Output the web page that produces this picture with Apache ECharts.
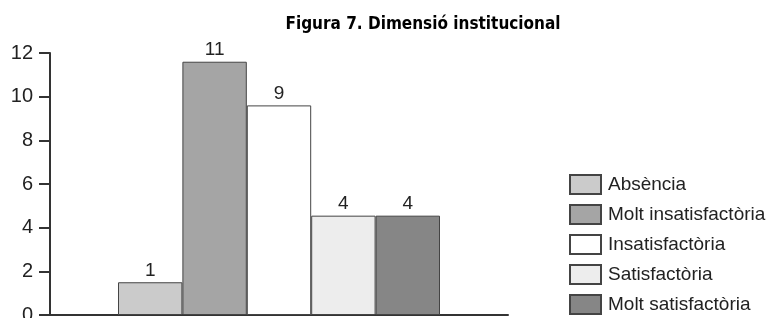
<!DOCTYPE html>
<html>
<head>
<meta charset="utf-8">
<script src="https://cdn.jsdelivr.net/npm/echarts@6/dist/echarts.min.js"></script>
<style>
html, body { margin: 0; padding: 0; background: #fff; }
#chart { width: 776px; height: 318px; }
</style>
</head>
<body>
<div id="chart"></div>
<script>
'use strict';
// categories (one per series)
var categories = ['Absència', 'Molt insatisfactòria', 'Insatisfactòria', 'Satisfactòria', 'Molt satisfactòria'];
// values printed above the bars
var counts = [1, 11, 9, 4, 4];
// bar heights as drawn in the picture
var heights = [1.5, 11.6, 9.6, 4.55, 4.55];
var colors = ['#cbcbcb', '#a5a5a5', '#ffffff', '#ededed', '#868686'];
var yTicks = [0, 2, 4, 6, 8, 10, 12];

var chart = echarts.init(document.getElementById('chart'));

var series = categories.map(function(name, i) {
    return {
        name: name,
        type: 'bar',
        data: [heights[i]],
        barWidth: 64.4,
        barGap: '0%',
        itemStyle: { color: colors[i], borderColor: '#444', borderWidth: 1 },
        label: {
            show: true,
            position: 'top',
            distance: 2,
            formatter: function() { return String(counts[i]); },
            fontFamily: 'Liberation Sans',
            fontSize: 19,
            color: '#222'
        }
    };
});

chart.setOption({
    animation: false,
    title: {
        text: 'Figura 7. Dimensió institucional',
        left: 418,
        textAlign: 'center',
        top: 11,
        textStyle: { fontFamily: 'DejaVu Sans Condensed', fontWeight: 'bold', fontSize: 17, color: '#000' }
    },
    legend: {
        orient: 'vertical',
        left: 569,
        top: 174,
        padding: 0,
        height: 160,
        icon: 'rect',
        itemWidth: 31,
        itemHeight: 19,
        itemGap: 9,
        data: categories,
        textStyle: { fontFamily: 'Liberation Sans', fontSize: 19, lineHeight: 19, color: '#222', padding: [0, 0, 0, 2] }
    },
    grid: { left: 50, right: 268, top: 53, bottom: 3, outerBoundsMode: 'none' },
    xAxis: {
        type: 'category',
        data: [''],
        axisLine: { lineStyle: { color: '#333', width: 2 } },
        axisTick: { show: false },
        axisLabel: { show: false }
    },
    yAxis: {
        type: 'value',
        min: yTicks[0],
        max: yTicks[yTicks.length - 1],
        interval: 2,
        splitLine: { show: false },
        axisLine: { show: true, lineStyle: { color: '#333', width: 2 } },
        axisTick: { show: true, length: 11, lineStyle: { color: '#333', width: 2 } },
        axisLabel: { margin: 17, fontFamily: 'Liberation Sans', fontSize: 20, color: '#222' }
    },
    series: series
});
</script>
</body>
</html>
